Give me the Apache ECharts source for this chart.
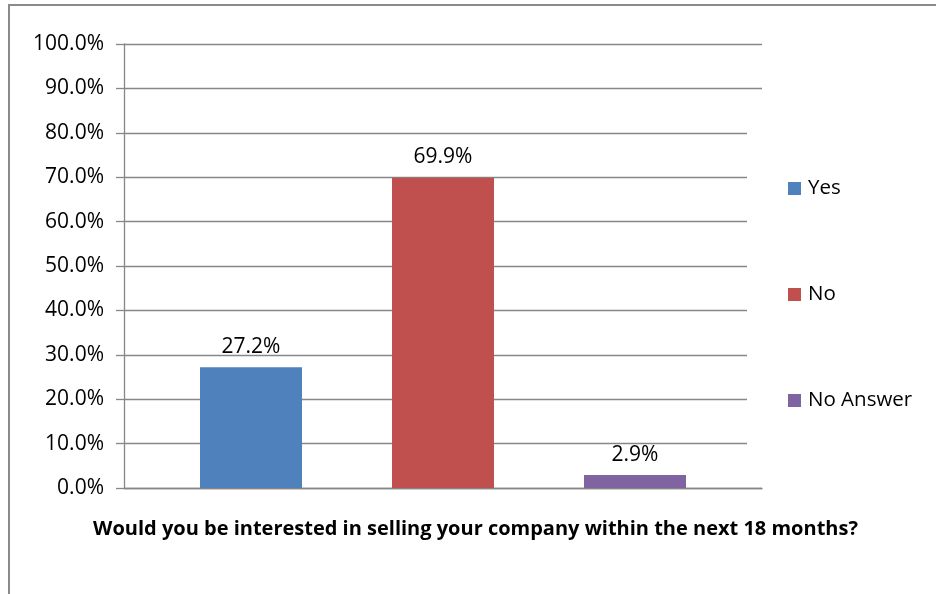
<!DOCTYPE html>
<html>
<head>
<meta charset="utf-8">
<script src="https://cdn.jsdelivr.net/npm/echarts@6/dist/echarts.min.js"></script>
<style>
  html, body { margin: 0; padding: 0; background: #fff; }
  #chart { width: 936px; height: 594px; }
</style>
</head>
<body>
<div id="chart"></div>
<script>
// Survey answers and their shares (percent of respondents)
const categories = ['Yes', 'No', 'No Answer'];
const shares = [27.2, 69.9, 2.9];
const colors = ['#4F81BD', '#C0504D', '#8064A2'];

// Value axis range and step (percent)
const axisMin = 0;
const axisMax = 100;
const axisStep = 10;

const question = 'Would you be interested in selling your company within the next 18 months?';

const FONT = '"Open Sans", "Liberation Sans", sans-serif';
const LINE = '#878787';

// One series per answer so each gets its own legend entry; the other slots stay empty
const barSeries = categories.map((name, i) => ({
  name: name,
  type: 'bar',
  xAxisIndex: 1,
  yAxisIndex: 1,
  barWidth: 102,
  barGap: '-100%',
  itemStyle: { color: colors[i] },
  label: {
    show: true,
    position: 'top',
    distance: 10,
    color: '#000',
    fontFamily: FONT,
    fontSize: 21,
    formatter: p => p.value.toFixed(1) + '%'
  },
  data: categories.map((c, j) => (j === i ? shares[i] : '-'))
}));

const chart = echarts.init(document.getElementById('chart'), null, { renderer: 'canvas' });

chart.setOption({
  animation: false,
  backgroundColor: '#fff',
  grid: [
    // frame with axis lines and gridlines
    { left: 124, top: 44, width: 638, height: 444, containLabel: false },
    // bar placement
    { left: 155, top: 44, width: 576, height: 444, containLabel: false }
  ],
  xAxis: [
    {
      type: 'category',
      gridIndex: 0,
      data: categories,
      axisLine: { show: true, lineStyle: { color: LINE, width: 1.3 } },
      axisTick: { show: false },
      axisLabel: { show: false },
      splitLine: { show: false }
    },
    {
      type: 'category',
      gridIndex: 1,
      data: categories,
      show: false
    }
  ],
  yAxis: [
    {
      type: 'value',
      gridIndex: 0,
      min: axisMin,
      max: axisMax,
      interval: axisStep,
      axisLine: { show: true, lineStyle: { color: LINE, width: 1.3 } },
      axisTick: { show: true, length: 8, lineStyle: { color: LINE, width: 1.3 } },
      axisLabel: {
        margin: 20,
        color: '#000',
        fontFamily: FONT,
        fontSize: 21,
        formatter: v => v.toFixed(1) + '%'
      },
      splitLine: { show: true, lineStyle: { color: LINE, width: 1.3 } }
    },
    {
      type: 'value',
      gridIndex: 1,
      min: axisMin,
      max: axisMax,
      interval: axisStep,
      show: false,
      splitLine: { show: false }
    }
  ],
  legend: {
    orient: 'vertical',
    left: 747,
    top: 100,
    padding: [78, 20, 62, 41],
    backgroundColor: '#fff',
    itemWidth: 13,
    itemHeight: 13,
    itemGap: 85,
    icon: 'rect',
    data: categories,
    textStyle: {
      color: '#000',
      fontFamily: FONT,
      fontSize: 20.5,
      lineHeight: 20,
      padding: [0, 0, 0, 2]
    }
  },
  graphic: [
    {
      type: 'rect',
      silent: true,
      z: 100,
      shape: { x: 9, y: 5, width: 1000, height: 1000 },
      style: { fill: 'none', stroke: '#8a8a8a', lineWidth: 2 }
    },
    {
      type: 'text',
      silent: true,
      z: 100,
      x: 475.5,
      y: 529,
      style: {
        text: question,
        fill: '#000',
        font: 'bold 20px ' + FONT,
        textAlign: 'center',
        textVerticalAlign: 'middle'
      }
    }
  ],
  series: barSeries
});
</script>
</body>
</html>
